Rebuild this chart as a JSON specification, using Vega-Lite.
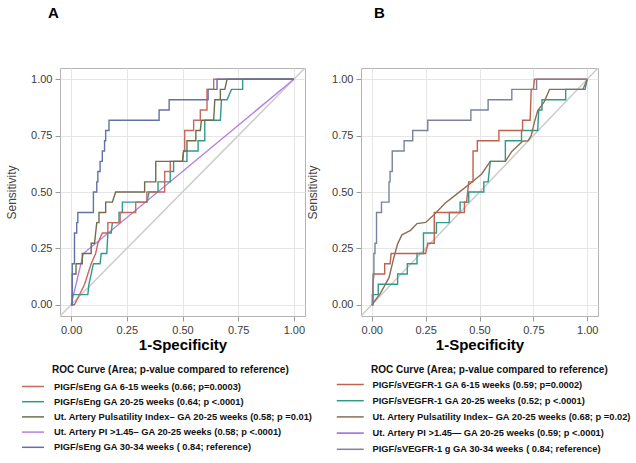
{
  "$schema": "https://vega.github.io/schema/vega-lite/v6.json",
  "padding": {"left": 5, "top": 5, "right": 5, "bottom": 5},
  "config": {
    "font": "Liberation Sans",
    "view": {"stroke": "#b4b4b4", "strokeWidth": 1},
    "axis": {"gridColor": "#e6e6e6", "gridWidth": 1, "domain": false, "tickColor": "#999999", "tickSize": 5, "labelColor": "#3c3c3c", "labelFontSize": 11, "labelPadding": 3, "labelFont": "Liberation Sans", "titleFont": "Liberation Sans"},
    "axisX": {"titleFontSize": 15, "titleFontWeight": "bold", "titleColor": "#000000", "titlePadding": 2},
    "axisY": {"titleFontWeight": "normal", "titleFontSize": 12, "titleColor": "#444444", "titlePadding": 12},
    "title": {"fontSize": 15, "fontWeight": "bold", "color": "#000000", "anchor": "start", "frame": "group"},
    "legend": {"titleFontSize": 10, "titleFontWeight": "bold", "titleColor": "#111111", "titleLimit": 500, "labelFontSize": 9.3, "labelFontWeight": "bold", "labelColor": "#111111", "labelLimit": 400, "symbolType": "M-2,0H2", "symbolStrokeWidth": 1.5, "direction": "vertical", "orient": "none"}
  },
  "datasets": {
    "diag": [{"x": -0.05, "y": -0.05}, {"x": 1.05, "y": 1.05}],
    "namesA": [
      {"k": "a1", "name": "PIGF/sEng GA 6-15 weeks (0.66; p=0.0003)"},
      {"k": "a2", "name": "PIGF/sEng GA 20-25 weeks (0.64; p <.0001)"},
      {"k": "a3", "name": "Ut. Artery Pulsatility Index– GA 20-25 weeks (0.58; p =0.01)"},
      {"k": "a4", "name": "Ut. Artery PI >1.45– GA 20-25 weeks (0.58; p <.0001)"},
      {"k": "a5", "name": "PIGF/sEng GA 30-34 weeks ( 0.84; reference)"}
    ],
    "namesB": [
      {"k": "b1", "name": "PIGF/sVEGFR-1 GA 6-15 weeks (0.59; p=0.0002)"},
      {"k": "b2", "name": "PIGF/sVEGFR-1 GA 20-25 weeks (0.52; p <.0001)"},
      {"k": "b3", "name": "Ut. Artery Pulsatility Index– GA 20-25 weeks (0.68; p =0.02)"},
      {"k": "b4", "name": "Ut. Artery PI >1.45— GA 20-25 weeks (0.59; p <.0001)"},
      {"k": "b5", "name": "PIGF/sVEGFR-1 g GA 30-34 weeks ( 0.84; reference)"}
    ],
    "rocA": [
      {"k": "a4", "x": 0, "y": 0}, {"k": "a4", "x": 0.055, "y": 0.227}, {"k": "a4", "x": 1, "y": 1},
      {"k": "a2", "x": 0, "y": 0}, {"k": "a2", "x": 0.005, "y": 0}, {"k": "a2", "x": 0.005, "y": 0.045}, {"k": "a2", "x": 0.075, "y": 0.045}, {"k": "a2", "x": 0.08, "y": 0.091}, {"k": "a2", "x": 0.09, "y": 0.136}, {"k": "a2", "x": 0.1, "y": 0.182}, {"k": "a2", "x": 0.13, "y": 0.182}, {"k": "a2", "x": 0.135, "y": 0.227}, {"k": "a2", "x": 0.16, "y": 0.227}, {"k": "a2", "x": 0.165, "y": 0.318}, {"k": "a2", "x": 0.18, "y": 0.318}, {"k": "a2", "x": 0.185, "y": 0.364}, {"k": "a2", "x": 0.215, "y": 0.364}, {"k": "a2", "x": 0.215, "y": 0.409}, {"k": "a2", "x": 0.23, "y": 0.409}, {"k": "a2", "x": 0.23, "y": 0.455}, {"k": "a2", "x": 0.34, "y": 0.455}, {"k": "a2", "x": 0.35, "y": 0.5}, {"k": "a2", "x": 0.39, "y": 0.5}, {"k": "a2", "x": 0.39, "y": 0.545}, {"k": "a2", "x": 0.445, "y": 0.545}, {"k": "a2", "x": 0.445, "y": 0.591}, {"k": "a2", "x": 0.46, "y": 0.591}, {"k": "a2", "x": 0.46, "y": 0.636}, {"k": "a2", "x": 0.52, "y": 0.636}, {"k": "a2", "x": 0.52, "y": 0.682}, {"k": "a2", "x": 0.57, "y": 0.682}, {"k": "a2", "x": 0.57, "y": 0.727}, {"k": "a2", "x": 0.6, "y": 0.727}, {"k": "a2", "x": 0.6, "y": 0.818}, {"k": "a2", "x": 0.67, "y": 0.818}, {"k": "a2", "x": 0.675, "y": 0.909}, {"k": "a2", "x": 0.7, "y": 0.909}, {"k": "a2", "x": 0.72, "y": 0.955}, {"k": "a2", "x": 0.77, "y": 0.955}, {"k": "a2", "x": 0.77, "y": 1}, {"k": "a2", "x": 1, "y": 1},
      {"k": "a1", "x": 0, "y": 0}, {"k": "a1", "x": 0.015, "y": 0}, {"k": "a1", "x": 0.06, "y": 0.09}, {"k": "a1", "x": 0.075, "y": 0.136}, {"k": "a1", "x": 0.09, "y": 0.182}, {"k": "a1", "x": 0.11, "y": 0.227}, {"k": "a1", "x": 0.12, "y": 0.273}, {"k": "a1", "x": 0.14, "y": 0.318}, {"k": "a1", "x": 0.165, "y": 0.318}, {"k": "a1", "x": 0.165, "y": 0.364}, {"k": "a1", "x": 0.22, "y": 0.364}, {"k": "a1", "x": 0.22, "y": 0.409}, {"k": "a1", "x": 0.29, "y": 0.409}, {"k": "a1", "x": 0.29, "y": 0.455}, {"k": "a1", "x": 0.34, "y": 0.455}, {"k": "a1", "x": 0.34, "y": 0.5}, {"k": "a1", "x": 0.42, "y": 0.5}, {"k": "a1", "x": 0.42, "y": 0.591}, {"k": "a1", "x": 0.445, "y": 0.591}, {"k": "a1", "x": 0.445, "y": 0.636}, {"k": "a1", "x": 0.5, "y": 0.636}, {"k": "a1", "x": 0.505, "y": 0.682}, {"k": "a1", "x": 0.51, "y": 0.682}, {"k": "a1", "x": 0.51, "y": 0.773}, {"k": "a1", "x": 0.55, "y": 0.773}, {"k": "a1", "x": 0.55, "y": 0.818}, {"k": "a1", "x": 0.58, "y": 0.818}, {"k": "a1", "x": 0.58, "y": 0.864}, {"k": "a1", "x": 0.61, "y": 0.864}, {"k": "a1", "x": 0.61, "y": 0.955}, {"k": "a1", "x": 0.64, "y": 0.955}, {"k": "a1", "x": 0.64, "y": 1}, {"k": "a1", "x": 1, "y": 1},
      {"k": "a3", "x": 0, "y": 0}, {"k": "a3", "x": 0.005, "y": 0}, {"k": "a3", "x": 0.005, "y": 0.136}, {"k": "a3", "x": 0.022, "y": 0.136}, {"k": "a3", "x": 0.022, "y": 0.182}, {"k": "a3", "x": 0.05, "y": 0.182}, {"k": "a3", "x": 0.05, "y": 0.227}, {"k": "a3", "x": 0.09, "y": 0.227}, {"k": "a3", "x": 0.09, "y": 0.273}, {"k": "a3", "x": 0.105, "y": 0.273}, {"k": "a3", "x": 0.11, "y": 0.318}, {"k": "a3", "x": 0.115, "y": 0.364}, {"k": "a3", "x": 0.125, "y": 0.364}, {"k": "a3", "x": 0.125, "y": 0.409}, {"k": "a3", "x": 0.155, "y": 0.409}, {"k": "a3", "x": 0.155, "y": 0.455}, {"k": "a3", "x": 0.185, "y": 0.455}, {"k": "a3", "x": 0.2, "y": 0.5}, {"k": "a3", "x": 0.33, "y": 0.5}, {"k": "a3", "x": 0.33, "y": 0.545}, {"k": "a3", "x": 0.38, "y": 0.545}, {"k": "a3", "x": 0.38, "y": 0.636}, {"k": "a3", "x": 0.5, "y": 0.636}, {"k": "a3", "x": 0.505, "y": 0.682}, {"k": "a3", "x": 0.52, "y": 0.682}, {"k": "a3", "x": 0.52, "y": 0.727}, {"k": "a3", "x": 0.56, "y": 0.727}, {"k": "a3", "x": 0.56, "y": 0.773}, {"k": "a3", "x": 0.58, "y": 0.773}, {"k": "a3", "x": 0.585, "y": 0.818}, {"k": "a3", "x": 0.64, "y": 0.818}, {"k": "a3", "x": 0.645, "y": 0.909}, {"k": "a3", "x": 0.67, "y": 0.909}, {"k": "a3", "x": 0.67, "y": 0.955}, {"k": "a3", "x": 0.69, "y": 0.955}, {"k": "a3", "x": 0.7, "y": 1}, {"k": "a3", "x": 1, "y": 1},
      {"k": "a5", "x": 0, "y": 0}, {"k": "a5", "x": 0.005, "y": 0}, {"k": "a5", "x": 0.005, "y": 0.182}, {"k": "a5", "x": 0.015, "y": 0.182}, {"k": "a5", "x": 0.015, "y": 0.318}, {"k": "a5", "x": 0.025, "y": 0.318}, {"k": "a5", "x": 0.025, "y": 0.364}, {"k": "a5", "x": 0.03, "y": 0.364}, {"k": "a5", "x": 0.03, "y": 0.409}, {"k": "a5", "x": 0.1, "y": 0.409}, {"k": "a5", "x": 0.1, "y": 0.5}, {"k": "a5", "x": 0.115, "y": 0.5}, {"k": "a5", "x": 0.115, "y": 0.545}, {"k": "a5", "x": 0.12, "y": 0.545}, {"k": "a5", "x": 0.12, "y": 0.591}, {"k": "a5", "x": 0.13, "y": 0.591}, {"k": "a5", "x": 0.13, "y": 0.636}, {"k": "a5", "x": 0.14, "y": 0.636}, {"k": "a5", "x": 0.14, "y": 0.682}, {"k": "a5", "x": 0.15, "y": 0.682}, {"k": "a5", "x": 0.15, "y": 0.727}, {"k": "a5", "x": 0.155, "y": 0.727}, {"k": "a5", "x": 0.155, "y": 0.773}, {"k": "a5", "x": 0.17, "y": 0.773}, {"k": "a5", "x": 0.17, "y": 0.818}, {"k": "a5", "x": 0.395, "y": 0.818}, {"k": "a5", "x": 0.395, "y": 0.864}, {"k": "a5", "x": 0.44, "y": 0.864}, {"k": "a5", "x": 0.44, "y": 0.909}, {"k": "a5", "x": 0.615, "y": 0.909}, {"k": "a5", "x": 0.615, "y": 0.955}, {"k": "a5", "x": 0.655, "y": 0.955}, {"k": "a5", "x": 0.655, "y": 1}, {"k": "a5", "x": 1, "y": 1}
    ],
    "rocB": [
      {"k": "b2", "x": 0, "y": 0}, {"k": "b2", "x": 0.005, "y": 0}, {"k": "b2", "x": 0.005, "y": 0.045}, {"k": "b2", "x": 0.03, "y": 0.045}, {"k": "b2", "x": 0.03, "y": 0.091}, {"k": "b2", "x": 0.12, "y": 0.091}, {"k": "b2", "x": 0.12, "y": 0.136}, {"k": "b2", "x": 0.165, "y": 0.136}, {"k": "b2", "x": 0.165, "y": 0.182}, {"k": "b2", "x": 0.21, "y": 0.182}, {"k": "b2", "x": 0.21, "y": 0.227}, {"k": "b2", "x": 0.24, "y": 0.227}, {"k": "b2", "x": 0.24, "y": 0.318}, {"k": "b2", "x": 0.3, "y": 0.318}, {"k": "b2", "x": 0.3, "y": 0.364}, {"k": "b2", "x": 0.36, "y": 0.364}, {"k": "b2", "x": 0.36, "y": 0.409}, {"k": "b2", "x": 0.41, "y": 0.409}, {"k": "b2", "x": 0.41, "y": 0.455}, {"k": "b2", "x": 0.45, "y": 0.455}, {"k": "b2", "x": 0.45, "y": 0.5}, {"k": "b2", "x": 0.52, "y": 0.5}, {"k": "b2", "x": 0.52, "y": 0.545}, {"k": "b2", "x": 0.54, "y": 0.545}, {"k": "b2", "x": 0.55, "y": 0.636}, {"k": "b2", "x": 0.62, "y": 0.636}, {"k": "b2", "x": 0.62, "y": 0.727}, {"k": "b2", "x": 0.695, "y": 0.727}, {"k": "b2", "x": 0.695, "y": 0.773}, {"k": "b2", "x": 0.77, "y": 0.773}, {"k": "b2", "x": 0.775, "y": 0.864}, {"k": "b2", "x": 0.79, "y": 0.864}, {"k": "b2", "x": 0.79, "y": 0.909}, {"k": "b2", "x": 0.9, "y": 0.909}, {"k": "b2", "x": 0.9, "y": 0.955}, {"k": "b2", "x": 0.99, "y": 0.955}, {"k": "b2", "x": 1, "y": 1},
      {"k": "b3", "x": 0, "y": 0}, {"k": "b3", "x": 0.04, "y": 0.05}, {"k": "b3", "x": 0.08, "y": 0.12}, {"k": "b3", "x": 0.1, "y": 0.2}, {"k": "b3", "x": 0.12, "y": 0.27}, {"k": "b3", "x": 0.14, "y": 0.31}, {"k": "b3", "x": 0.16, "y": 0.32}, {"k": "b3", "x": 0.18, "y": 0.33}, {"k": "b3", "x": 0.21, "y": 0.36}, {"k": "b3", "x": 0.25, "y": 0.365}, {"k": "b3", "x": 0.29, "y": 0.4}, {"k": "b3", "x": 0.34, "y": 0.45}, {"k": "b3", "x": 0.4, "y": 0.495}, {"k": "b3", "x": 0.46, "y": 0.54}, {"k": "b3", "x": 0.51, "y": 0.58}, {"k": "b3", "x": 0.55, "y": 0.636}, {"k": "b3", "x": 0.62, "y": 0.636}, {"k": "b3", "x": 0.65, "y": 0.68}, {"k": "b3", "x": 0.7, "y": 0.725}, {"k": "b3", "x": 0.725, "y": 0.727}, {"k": "b3", "x": 0.74, "y": 0.75}, {"k": "b3", "x": 0.755, "y": 0.81}, {"k": "b3", "x": 0.77, "y": 0.86}, {"k": "b3", "x": 0.8, "y": 0.9}, {"k": "b3", "x": 0.825, "y": 0.955}, {"k": "b3", "x": 0.98, "y": 0.955}, {"k": "b3", "x": 1, "y": 1},
      {"k": "b1", "x": 0, "y": 0}, {"k": "b1", "x": 0.005, "y": 0}, {"k": "b1", "x": 0.005, "y": 0.09}, {"k": "b1", "x": 0.01, "y": 0.136}, {"k": "b1", "x": 0.06, "y": 0.136}, {"k": "b1", "x": 0.06, "y": 0.182}, {"k": "b1", "x": 0.085, "y": 0.182}, {"k": "b1", "x": 0.09, "y": 0.227}, {"k": "b1", "x": 0.25, "y": 0.227}, {"k": "b1", "x": 0.26, "y": 0.273}, {"k": "b1", "x": 0.29, "y": 0.273}, {"k": "b1", "x": 0.29, "y": 0.409}, {"k": "b1", "x": 0.43, "y": 0.409}, {"k": "b1", "x": 0.43, "y": 0.455}, {"k": "b1", "x": 0.44, "y": 0.455}, {"k": "b1", "x": 0.45, "y": 0.545}, {"k": "b1", "x": 0.47, "y": 0.545}, {"k": "b1", "x": 0.47, "y": 0.682}, {"k": "b1", "x": 0.49, "y": 0.682}, {"k": "b1", "x": 0.49, "y": 0.727}, {"k": "b1", "x": 0.59, "y": 0.727}, {"k": "b1", "x": 0.59, "y": 0.773}, {"k": "b1", "x": 0.7, "y": 0.773}, {"k": "b1", "x": 0.7, "y": 0.818}, {"k": "b1", "x": 0.735, "y": 0.818}, {"k": "b1", "x": 0.74, "y": 0.955}, {"k": "b1", "x": 0.75, "y": 0.955}, {"k": "b1", "x": 0.755, "y": 1}, {"k": "b1", "x": 1, "y": 1},
      {"k": "b5", "x": 0, "y": 0}, {"k": "b5", "x": 0.002, "y": 0}, {"k": "b5", "x": 0.002, "y": 0.045}, {"k": "b5", "x": 0.006, "y": 0.045}, {"k": "b5", "x": 0.006, "y": 0.136}, {"k": "b5", "x": 0.01, "y": 0.136}, {"k": "b5", "x": 0.01, "y": 0.227}, {"k": "b5", "x": 0.015, "y": 0.227}, {"k": "b5", "x": 0.015, "y": 0.273}, {"k": "b5", "x": 0.022, "y": 0.273}, {"k": "b5", "x": 0.022, "y": 0.409}, {"k": "b5", "x": 0.045, "y": 0.409}, {"k": "b5", "x": 0.045, "y": 0.455}, {"k": "b5", "x": 0.08, "y": 0.455}, {"k": "b5", "x": 0.08, "y": 0.545}, {"k": "b5", "x": 0.085, "y": 0.545}, {"k": "b5", "x": 0.085, "y": 0.591}, {"k": "b5", "x": 0.095, "y": 0.591}, {"k": "b5", "x": 0.095, "y": 0.682}, {"k": "b5", "x": 0.15, "y": 0.682}, {"k": "b5", "x": 0.15, "y": 0.727}, {"k": "b5", "x": 0.19, "y": 0.727}, {"k": "b5", "x": 0.19, "y": 0.773}, {"k": "b5", "x": 0.26, "y": 0.773}, {"k": "b5", "x": 0.26, "y": 0.818}, {"k": "b5", "x": 0.46, "y": 0.818}, {"k": "b5", "x": 0.46, "y": 0.864}, {"k": "b5", "x": 0.54, "y": 0.864}, {"k": "b5", "x": 0.54, "y": 0.909}, {"k": "b5", "x": 0.65, "y": 0.909}, {"k": "b5", "x": 0.65, "y": 0.955}, {"k": "b5", "x": 0.765, "y": 0.955}, {"k": "b5", "x": 0.765, "y": 1}, {"k": "b5", "x": 1, "y": 1}
    ]
  },
  "hconcat": [
    {
      "width": 245,
      "height": 248,
      "title": {"text": "A", "dx": -12, "offset": 47},
      "layer": [
        {
          "data": {"name": "diag"},
          "mark": {"type": "line", "color": "#cccccc", "strokeWidth": 1.5, "clip": true},
          "encoding": {
            "x": {"field": "x", "type": "quantitative", "scale": {"domain": [-0.05, 1.05], "nice": false, "zero": false}, "axis": {"values": [0, 0.25, 0.5, 0.75, 1], "format": ".2f", "title": "1-Specificity"}},
            "y": {"field": "y", "type": "quantitative", "scale": {"domain": [-0.05, 1.05], "nice": false, "zero": false}, "axis": {"values": [0, 0.25, 0.5, 0.75, 1], "format": ".2f", "title": "Sensitivity"}}
          }
        },
        {
          "data": {"name": "rocA"},
          "transform": [{"lookup": "k", "from": {"data": {"name": "namesA"}, "key": "k", "fields": ["name"]}}],
          "mark": {"type": "line", "strokeWidth": 1.4, "clip": true},
          "encoding": {
            "x": {"field": "x", "type": "quantitative"},
            "y": {"field": "y", "type": "quantitative"},
            "order": {"value": null},
            "color": {
              "field": "name", "type": "nominal",
              "scale": {"domain": ["PIGF/sEng GA 6-15 weeks (0.66; p=0.0003)", "PIGF/sEng GA 20-25 weeks (0.64; p <.0001)", "Ut. Artery Pulsatility Index– GA 20-25 weeks (0.58; p =0.01)", "Ut. Artery PI >1.45– GA 20-25 weeks (0.58; p <.0001)", "PIGF/sEng GA 30-34 weeks ( 0.84; reference)"], "range": ["#c4695c", "#2f9a8c", "#6e6e4c", "#b57ee6", "#6272a6"]},
              "legend": {"title": "ROC Curve (Area; p-value compared to reference)", "legendX": -33.5, "legendY": 297, "symbolSize": 121, "labelOffset": 14.5, "titlePadding": 5, "rowPadding": 3.2, "encoding": {"title": {"dx": {"value": 25.5}}}}
            }
          }
        }
      ]
    },
    {
      "width": 237,
      "height": 248,
      "title": {"text": "B", "dx": 13, "offset": 47},
      "layer": [
        {
          "data": {"name": "diag"},
          "mark": {"type": "line", "color": "#cccccc", "strokeWidth": 1.5, "clip": true},
          "encoding": {
            "x": {"field": "x", "type": "quantitative", "scale": {"domain": [-0.05, 1.05], "nice": false, "zero": false}, "axis": {"values": [0, 0.25, 0.5, 0.75, 1], "format": ".2f", "title": "1-Specificity"}},
            "y": {"field": "y", "type": "quantitative", "scale": {"domain": [-0.05, 1.05], "nice": false, "zero": false}, "axis": {"values": [0, 0.25, 0.5, 0.75, 1], "format": ".2f", "title": "Sensitivity"}}
          }
        },
        {
          "data": {"name": "rocB"},
          "transform": [{"lookup": "k", "from": {"data": {"name": "namesB"}, "key": "k", "fields": ["name"]}}],
          "mark": {"type": "line", "strokeWidth": 1.4, "clip": true},
          "encoding": {
            "x": {"field": "x", "type": "quantitative"},
            "y": {"field": "y", "type": "quantitative"},
            "order": {"value": null},
            "color": {
              "field": "name", "type": "nominal",
              "scale": {"domain": ["PIGF/sVEGFR-1 GA 6-15 weeks (0.59; p=0.0002)", "PIGF/sVEGFR-1 GA 20-25 weeks (0.52; p <.0001)", "Ut. Artery Pulsatility Index– GA 20-25 weeks (0.68; p =0.02)", "Ut. Artery PI >1.45— GA 20-25 weeks (0.59; p <.0001)", "PIGF/sVEGFR-1 g GA 30-34 weeks ( 0.84; reference)"], "range": ["#c0604f", "#2e9a88", "#8a6e54", "#a060e0", "#7a82a0"]},
              "legend": {"title": "ROC Curve (Area; p-value compared to reference)", "legendX": -18.25, "legendY": 297, "symbolSize": 182, "labelOffset": 14.75, "titlePadding": 2, "rowPadding": 3.2, "encoding": {"title": {"dx": {"value": 28.25}}}}
            }
          }
        }
      ]
    }
  ],
  "spacing": 56,
  "bounds": "flush",
  "resolve": {"scale": {"color": "independent"}}
}
